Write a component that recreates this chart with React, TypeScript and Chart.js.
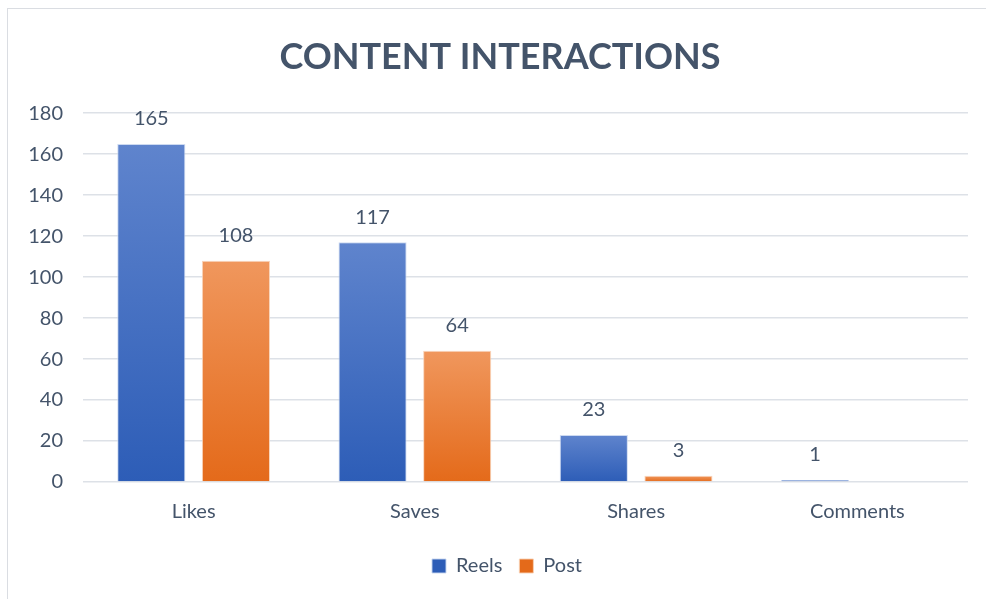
import React, { useEffect, useRef } from "react";
import { Chart, registerables } from "chart.js";

Chart.register(...registerables);

const categories = ["Likes", "Saves", "Shares", "Comments"];
const reels = [165, 117, 23, 1];
const post = [108, 64, 3, 0];
const yTicks = [0, 20, 40, 60, 80, 100, 120, 140, 160, 180];
const titleText = "CONTENT INTERACTIONS";

const TEXT = "#44546A";
const FONT = "Lato, 'Open Sans', sans-serif";

function gradientFill(top: string, bottom: string, solid: string) {
  return (c: any) => {
    if (c.type !== "data") return solid;
    const chart = c.chart;
    const { ctx, chartArea, scales } = chart;
    if (!chartArea || !scales.y) return solid;
    const yTop = scales.y.getPixelForValue(c.raw);
    const yBot = scales.y.getPixelForValue(0);
    if (!isFinite(yTop) || !isFinite(yBot) || yBot - yTop < 1) return bottom;
    const g = ctx.createLinearGradient(0, yTop, 0, yBot);
    g.addColorStop(0, top);
    g.addColorStop(1, bottom);
    return g;
  };
}

const valueLabels = {
  id: "valueLabels",
  afterDatasetsDraw(chart: any) {
    const { ctx } = chart;
    ctx.save();
    ctx.font = `20px ${FONT}`;
    ctx.fillStyle = TEXT;
    ctx.textAlign = "center";
    ctx.textBaseline = "middle";
    chart.data.datasets.forEach((ds: any, di: number) => {
      const meta = chart.getDatasetMeta(di);
      meta.data.forEach((el: any, i: number) => {
        const v = ds.data[i];
        if (!v) return;
        ctx.fillText(String(v), el.x, el.y - 25);
      });
    });
    ctx.restore();
  },
};

const centeredTitle = {
  id: "centeredTitle",
  afterLayout(chart: any) {
    if (chart.legend) {
      chart.legend.left += 23;
      chart.legend.right += 23;
    }
  },
  afterDraw(chart: any) {
    const { ctx } = chart;
    ctx.save();
    ctx.font = `bold 36px ${FONT}`;
    ctx.fillStyle = TEXT;
    ctx.textAlign = "center";
    ctx.textBaseline = "middle";
    ctx.fillText(titleText, 500, 57);
    ctx.restore();
  },
};

export default function App() {
  const ref = useRef<HTMLCanvasElement | null>(null);
  useEffect(() => {
    if (!ref.current) return;
    const chart = new Chart(ref.current, {
      type: "bar",
      data: {
        labels: categories,
        datasets: [
          {
            label: "Reels",
            data: reels,
            backgroundColor: gradientFill("#5f84cd", "#2d5db7", "#4371c4"),
            borderColor: "rgba(200,214,240,0.9)",
            borderWidth: 1,
            categoryPercentage: 0.765,
            barPercentage: 0.805,
          },
          {
            label: "Post",
            data: post,
            backgroundColor: gradientFill("#f0975d", "#e46a1a", "#ec7b2e"),
            borderColor: "rgba(248,208,180,0.9)",
            borderWidth: 1,
            categoryPercentage: 0.765,
            barPercentage: 0.805,
          },
        ],
      },
      options: {
        animation: false,
        responsive: false,
        devicePixelRatio: 1,
        layout: { padding: { left: 0, right: 18, top: 0, bottom: 13 } },
        plugins: {
          title: {
            display: true,
            text: titleText,
            color: "rgba(0,0,0,0)",
            font: { family: FONT, size: 36, weight: "bold" },
            padding: { top: 36, bottom: 34 },
          },
          legend: {
            position: "bottom",
            labels: {
              color: TEXT,
              font: { family: FONT, size: 20 },
              boxWidth: 14,
              boxHeight: 14,
              padding: 17,
            },
          },
          tooltip: { enabled: false },
        },
        scales: {
          x: {
            grid: { display: false, drawTicks: false },
            border: { display: false },
            ticks: { color: TEXT, font: { family: FONT, size: 20 }, padding: 18 },
            afterFit: (s: any) => {
              s.height = 57;
            },
          },
          y: {
            min: 0,
            max: 180,
            afterBuildTicks: (s: any) => {
              s.ticks = yTicks.map((v) => ({ value: v }));
            },
            afterFit: (s: any) => {
              s.width = 83;
            },
            grid: { color: "#dde1e7", lineWidth: 1.5, drawTicks: false },
            border: { display: false },
            ticks: { color: TEXT, font: { family: FONT, size: 20 }, padding: 20 },
          },
        },
      },
      plugins: [valueLabels, centeredTitle],
    });
    return () => chart.destroy();
  }, []);
  return (
    <div style={{ position: "fixed", left: 0, top: 0, width: 986, height: 599, overflow: "hidden", background: "#fff" }}>
      <div style={{ position: "absolute", left: 7, top: 8, width: 1200, height: 800, border: "1px solid #dadde2" }} />
      <canvas ref={ref} width={986} height={599} style={{ position: "absolute", left: 0, top: 0, width: 986, height: 599 }} />
    </div>
  );
}
